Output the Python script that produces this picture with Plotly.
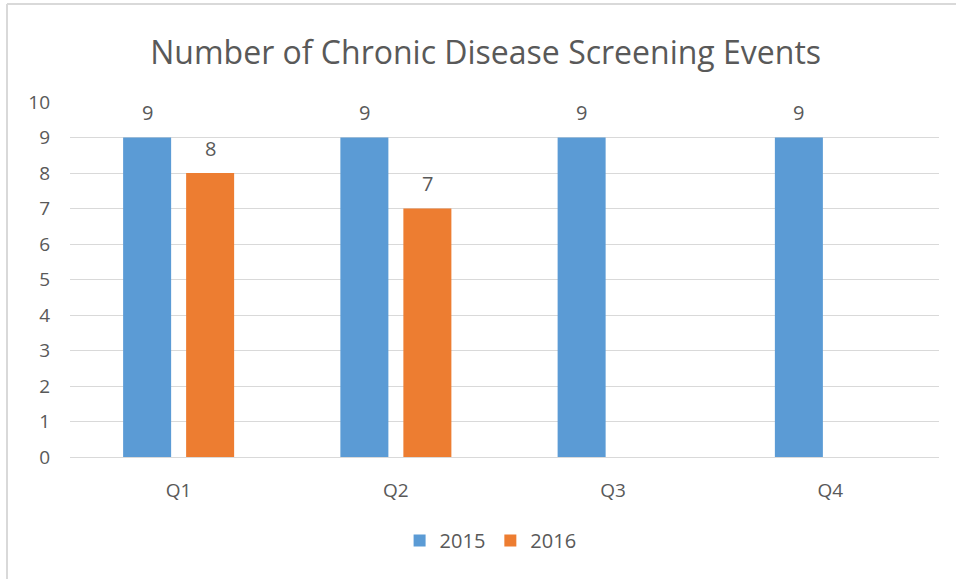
import plotly.graph_objects as go

quarters = ["Q1", "Q2", "Q3", "Q4"]
series_names = ["2015", "2016"]
events_2015 = [9, 9, 9, 9]
events_2016 = [8, 7, None, None]

BLUE = "#5B9BD5"
ORANGE = "#ED7D31"
TEXT = "#595959"
GRID = "#D9D9D9"
FONT = "Open Sans"

BARGAP = 0.42
BARGROUPGAP = 0.238

fig = go.Figure()
for name, values, color in zip(series_names, [events_2015, events_2016], [BLUE, ORANGE]):
    fig.add_trace(
        go.Bar(
            x=quarters,
            y=values,
            name=name,
            marker=dict(color=color, line=dict(width=0)),
        )
    )

# value labels sit a little above each bar, like Excel's data labels
slot = (1 - BARGAP) / len(series_names)
annotations = []
for k, values in enumerate([events_2015, events_2016]):
    offset = -(1 - BARGAP) / 2 + slot * (k + 0.5)
    for i, v in enumerate(values):
        if v is None:
            continue
        annotations.append(
            dict(
                x=i + offset,
                y=v,
                xref="x",
                yref="y",
                text=str(v),
                showarrow=False,
                yshift=25,
                yanchor="middle",
                font=dict(family=FONT, size=20, color=TEXT),
            )
        )

fig.update_layout(
    width=956,
    height=579,
    margin=dict(l=70, r=17, t=102, b=122),
    paper_bgcolor="white",
    plot_bgcolor="white",
    barmode="group",
    bargap=BARGAP,
    bargroupgap=BARGROUPGAP,
    font=dict(family=FONT, color=TEXT, size=19),
    title=dict(
        text="Number of Chronic Disease Screening Events",
        x=0.508,
        xanchor="center",
        y=0.909,
        yanchor="middle",
        font=dict(family=FONT, size=32, color=TEXT),
    ),
    legend=dict(
        orientation="h",
        x=0.484,
        xanchor="center",
        y=-0.235,
        yanchor="middle",
        font=dict(family=FONT, size=20, color=TEXT),
        itemwidth=30,
        traceorder="normal",
    ),
    xaxis=dict(
        showgrid=False,
        showline=True,
        linecolor=GRID,
        linewidth=1,
        ticks="",
        ticklabelstandoff=16,
        tickfont=dict(family=FONT, size=19, color=TEXT),
    ),
    yaxis=dict(
        range=[0, 10],
        dtick=1,
        showgrid=True,
        gridcolor=GRID,
        gridwidth=1,
        zeroline=False,
        ticks="",
        ticklabelstandoff=19,
        tickfont=dict(family=FONT, size=19, color=TEXT),
    ),
    annotations=annotations,
    shapes=[
        dict(type="line", xref="paper", yref="paper", x0=-0.0725, x1=1.03, y0=1.276, y1=1.276,
             line=dict(color=GRID, width=2)),
        dict(type="line", xref="paper", yref="paper", x0=-0.0725, x1=-0.0725, y0=1.276, y1=-0.37,
             line=dict(color=GRID, width=2)),
    ],
)

fig.write_html(
    "out.html",
    config={"displayModeBar": False},
    post_script="document.body.style.margin = '0px';",
)
